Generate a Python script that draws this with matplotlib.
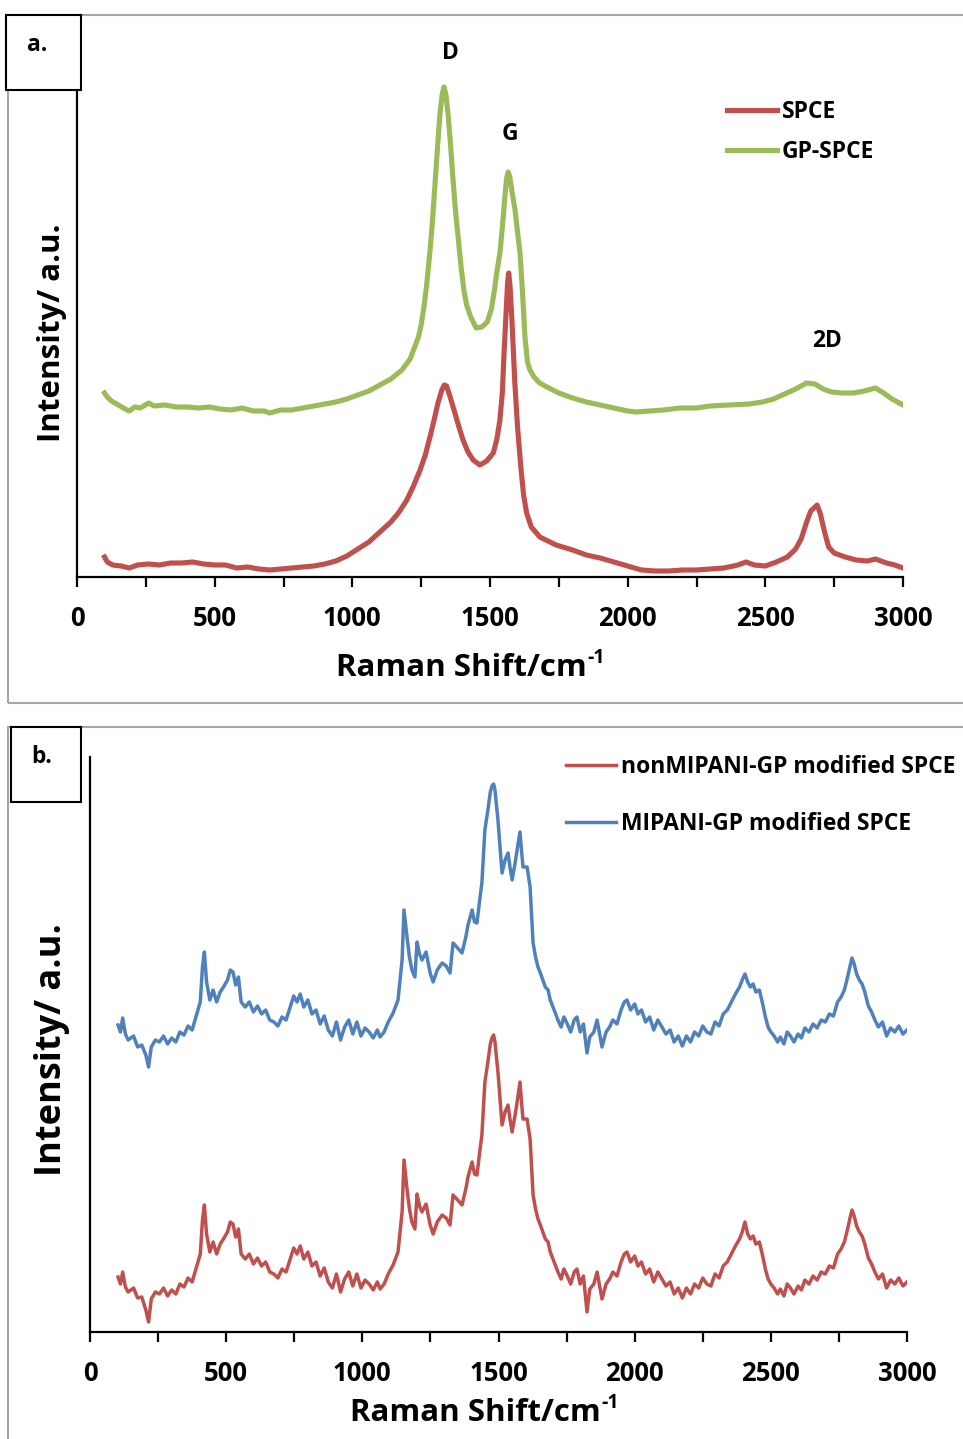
import matplotlib
matplotlib.use("Agg")
import matplotlib.pyplot as plt
from matplotlib.patches import Rectangle
from matplotlib.ticker import MultipleLocator

plt.rcParams['font.family'] = ['Open Sans', 'DejaVu Sans']
plt.rcParams['font.weight'] = 'bold'

# ---- panel a : SPCE vs GP-SPCE ----
gp_shift = [100, 110, 125, 150, 175, 190, 210, 230, 260, 280, 320, 360, 400, 440, 480,
            520, 560, 600, 640, 680, 700, 740, 780, 820, 860, 900, 940, 980, 1020, 1060,
            1100, 1140, 1180, 1210, 1240, 1250, 1260, 1270, 1280, 1290, 1300, 1310, 1318,
            1326, 1333, 1340, 1348, 1356, 1365, 1375, 1385, 1395, 1405, 1415, 1430, 1450,
            1470, 1490, 1505, 1515, 1525, 1536, 1545, 1554, 1560, 1566, 1572, 1580, 1591,
            1600, 1609, 1618, 1627, 1636, 1645, 1660, 1680, 1707, 1750, 1800, 1850, 1900,
            1950, 2000, 2030, 2080, 2130, 2190, 2250, 2300, 2370, 2440, 2490, 2530, 2570,
            2610, 2650, 2680, 2710, 2740, 2780, 2820, 2860, 2900, 2930, 2960, 3000]
gp_int = [184, 180, 176, 172, 168, 166, 170, 169, 174, 171, 172, 170, 170, 169, 170,
          168, 167, 169, 166, 166, 164, 167, 167, 169, 171, 173, 175, 178, 182, 186,
          192, 198, 207, 218, 240, 252, 270, 292, 320, 352, 392, 432, 462,
          482, 490, 482, 462, 435, 400, 365, 338, 310, 287, 272, 260, 249,
          250, 255, 268, 285, 305, 324, 350, 380, 398, 405, 400, 385, 367,
          345, 324, 285, 240, 215, 207, 200, 194, 190, 184, 179, 175, 172,
          169, 166, 165, 166, 167, 169, 169, 171, 172, 173, 175, 178, 183,
          188, 194, 193, 188, 185, 184, 184, 186, 189, 184, 178, 172]

spce_shift = [100, 110, 130, 160, 190, 220, 260, 300, 340, 380, 420, 460, 500, 540, 580,
              620, 660, 700, 740, 780, 820, 860, 900, 940, 980, 1020, 1060, 1100, 1140,
              1170, 1198, 1222, 1246, 1265, 1282, 1297, 1311, 1325, 1334, 1342, 1352,
              1366, 1384, 1402, 1420, 1439, 1463, 1488, 1512, 1525, 1536, 1545, 1551,
              1558, 1564, 1568, 1573, 1580, 1590, 1600, 1612, 1622, 1633, 1650, 1681,
              1740, 1800, 1850, 1900, 1950, 2000, 2050, 2100, 2150, 2200, 2250, 2300,
              2350, 2400, 2430, 2460, 2500, 2540, 2580, 2610, 2630, 2650, 2665, 2688,
              2700, 2715, 2730, 2750, 2790, 2830, 2870, 2900, 2940, 2970, 3000]
spce_int = [20, 15, 12, 11, 9, 12, 13, 12, 14, 14, 15, 13, 12, 12, 9,
            10, 8, 7, 8, 9, 10, 11, 13, 16, 21, 28, 35, 45, 55,
            65, 77, 91, 107, 122, 140, 157, 174, 187, 192, 191, 183,
            170, 153, 137, 125, 117, 112, 116, 124, 138, 157, 185, 224,
            262, 295, 304, 290, 255, 195, 150, 110, 82, 64, 50, 40,
            32, 27, 22, 19, 15, 11, 7, 6, 6, 7, 7, 8,
            9, 12, 15, 12, 11, 15, 20, 28, 38, 55, 66, 72,
            63, 45, 30, 24, 20, 17, 16, 18, 14, 12, 9]

# ---- panel b : nonMIPANI-GP vs MIPANI-GP ----
b_shift = [103, 112, 120, 130, 140, 160, 175, 190, 205, 215, 225, 240, 255, 270, 285,
           300, 315, 330, 345, 360, 375, 390, 405, 413, 420, 428, 440, 452, 465, 478,
           490, 505, 515, 525, 535, 545, 555, 570, 585, 600, 615, 630, 645, 660, 675,
           690, 705, 720, 735, 748, 760, 772, 785, 800, 815, 830, 845, 860, 875, 890,
           905, 920, 935, 950, 965, 980, 995, 1010, 1025, 1040, 1055, 1065, 1080, 1095,
           1113, 1131, 1146, 1153, 1164, 1173, 1182, 1193, 1201, 1210, 1219, 1234, 1249,
           1260, 1275, 1293, 1308, 1322, 1333, 1350, 1366, 1380, 1388, 1403, 1412, 1421,
           1430, 1439, 1450, 1461, 1470, 1476, 1482, 1487, 1498, 1507, 1513, 1524, 1535,
           1542, 1550, 1561, 1570, 1579, 1585, 1590, 1605, 1616, 1627, 1636, 1645, 1655,
           1663, 1672, 1682, 1690, 1700, 1710, 1718, 1730, 1740, 1751, 1765, 1778, 1788,
           1800, 1812, 1825, 1835, 1850, 1862, 1870, 1880, 1895, 1908, 1920, 1935, 1950,
           1962, 1972, 1985, 2000, 2012, 2025, 2040, 2055, 2070, 2085, 2100, 2115, 2130,
           2145, 2160, 2175, 2190, 2205, 2220, 2235, 2250, 2265, 2280, 2295, 2310, 2325,
           2340, 2355, 2370, 2385, 2395, 2405, 2415, 2425, 2435, 2445, 2458, 2470, 2480,
           2490, 2500, 2512, 2525, 2535, 2548, 2560, 2572, 2585, 2600, 2612, 2625, 2640,
           2655, 2670, 2685, 2700, 2715, 2730, 2745, 2758, 2770, 2782, 2790, 2798, 2806,
           2815, 2825, 2835, 2845, 2858, 2870, 2882, 2895, 2910, 2925, 2940, 2955, 2970,
           2985, 3000]
mip_int = [307, 300, 314, 298, 292, 296, 285, 287, 277, 265, 285, 292, 290, 296, 288,
           294, 290, 300, 297, 306, 302, 316, 330, 365, 380, 350, 332, 342, 330, 340,
           345, 352, 362, 360, 347, 355, 330, 325, 330, 320, 326, 318, 322, 312, 310,
           306, 315, 312, 325, 336, 330, 338, 325, 332, 318, 322, 308, 316, 302, 296,
           310, 292, 305, 312, 298, 310, 296, 304, 300, 294, 302, 295, 300, 310,
           319, 332, 372, 422, 395, 375, 362, 355, 390, 378, 372, 380, 359,
           350, 362, 369, 366, 359, 389, 384, 379, 395, 407, 422, 410, 409,
           430, 449, 502, 522, 540, 546, 548, 542, 512, 480, 459, 472, 479,
           465, 452, 469, 485, 500, 480, 465, 465, 445, 389, 375, 365, 358,
           352, 345, 342, 332, 325, 318, 312, 305, 315, 309, 300, 312, 315,
           300, 308, 279, 295, 300, 312, 300, 285, 300, 305, 312, 308, 322,
           330, 332, 322, 328, 318, 322, 310, 315, 302, 312, 305, 298, 302,
           290, 296, 286, 296, 290, 300, 296, 306, 300, 298, 310, 306, 318,
           322, 330, 338, 345, 352, 358, 350, 345, 348, 340, 342, 328, 315,
           305, 300, 296, 290, 295, 288, 300, 296, 290, 298, 294, 304, 300,
           308, 304, 312, 310, 318, 316, 330, 335, 342, 355, 365, 374, 368,
           358, 352, 348, 340, 326, 320, 312, 305, 310, 296, 304, 300, 306,
           298, 302]
nonmip_int = [55, 48, 60, 45, 40, 44, 34, 35, 22, 10, 33, 40, 38, 44, 36,
              42, 38, 48, 45, 54, 50, 64, 78, 112, 127, 98, 80, 90, 78, 88,
              93, 100, 110, 108, 95, 103, 78, 73, 78, 68, 74, 66, 70, 60, 58,
              54, 63, 60, 73, 84, 78, 86, 73, 80, 66, 70, 56, 64, 50, 44,
              58, 40, 53, 60, 46, 58, 44, 52, 48, 42, 50, 43, 48, 58,
              67, 80, 120, 172, 143, 123, 110, 103, 138, 126, 120, 128, 107,
              98, 110, 117, 114, 107, 137, 132, 127, 143, 155, 170, 158, 157,
              178, 197, 250, 270, 288, 294, 297, 290, 260, 228, 207, 220, 227,
              213, 200, 217, 233, 250, 228, 213, 213, 193, 137, 123, 113, 106,
              100, 93, 90, 80, 73, 66, 60, 53, 63, 57, 48, 60, 63,
              48, 56, 20, 43, 48, 60, 48, 33, 48, 53, 60, 56, 70,
              78, 80, 70, 76, 66, 70, 58, 63, 50, 60, 53, 46, 50,
              38, 44, 34, 44, 38, 48, 44, 54, 48, 46, 58, 54, 66,
              70, 78, 86, 93, 100, 110, 98, 93, 96, 88, 90, 76, 63,
              53, 48, 44, 38, 43, 36, 48, 44, 38, 46, 42, 52, 48,
              56, 52, 60, 58, 66, 64, 78, 83, 90, 103, 113, 122, 116,
              106, 100, 96, 88, 74, 68, 60, 53, 58, 44, 52, 48, 54,
              46, 50]

red = '#C0504D'
green = '#9BBB59'
blue = '#4F81BD'

W, H = 963, 1439
fig = plt.figure(figsize=(W / 100, H / 100), dpi=100)


def fbox(x0, y0, x1, y1):
    # pixel box (top-left origin) -> figure fraction [l, b, w, h]
    return [x0 / W, 1 - y1 / H, (x1 - x0) / W, (y1 - y0) / H]


def style_axes(ax, top):
    ax.set_xlim(0, 3000)
    ax.set_ylim(0, top)
    ax.set_facecolor('none')
    for s in ['top', 'right']:
        ax.spines[s].set_visible(False)
    for s in ['left', 'bottom']:
        ax.spines[s].set_linewidth(1.6)
        ax.spines[s].set_color('black')
    ax.set_yticks([])
    ax.xaxis.set_major_locator(MultipleLocator(500))
    ax.xaxis.set_minor_locator(MultipleLocator(250))
    ax.tick_params(axis='x', which='both', direction='out', length=7, width=1.6, pad=13)
    ax.tick_params(axis='x', which='major', labelsize=18.5)
    for lab in ax.get_xticklabels():
        lab.set_fontweight('bold')


def raman_label(x_left, y_mid, size):
    # axis title with a small raised "-1"
    t = fig.text(x_left / W, 1 - y_mid / H, 'Raman Shift/cm', ha='left', va='center',
                 fontsize=size, fontweight='bold')
    r = fig.canvas.get_renderer()
    bb = t.get_window_extent(renderer=r)
    fig.text(bb.x1 / W + 1 / W, 1 - (y_mid - 10) / H, '-1', ha='left', va='center',
             fontsize=size * 0.62, fontweight='bold')


# panel frames
fig.patches.append(Rectangle((8 / W, 1 - 703 / H), 1.0, (703 - 15) / H, transform=fig.transFigure,
                             fill=False, edgecolor='#a6a6a6', lw=1.5, zorder=0))
fig.patches.append(Rectangle((8 / W, -0.01), 1.0, 1 - 727 / H + 0.01, transform=fig.transFigure,
                             fill=False, edgecolor='#a6a6a6', lw=1.5, zorder=0))

# ---- panel a ----
ax1 = fig.add_axes(fbox(77, 80, 903, 577))
ax1.plot(spce_shift, spce_int, color=red, lw=3.7, label='SPCE', solid_joinstyle='round')
ax1.plot(gp_shift, gp_int, color=green, lw=3.7, label='GP-SPCE', solid_joinstyle='round')
style_axes(ax1, 497)
ax1.text(1358, 524, 'D', ha='center', va='center', fontsize=16.5, fontweight='bold', clip_on=False)
ax1.text(1573, 443, 'G', ha='center', va='center', fontsize=16.5, fontweight='bold')
ax1.text(2724, 236, '2D', ha='center', va='center', fontsize=16.5, fontweight='bold')
leg1 = ax1.legend(loc='upper left', bbox_to_anchor=(727 / W, 1 - 100 / H), bbox_transform=fig.transFigure,
                  frameon=False, fontsize=16.5, handlelength=2.2, handletextpad=0.2,
                  labelspacing=0.72, borderpad=0, borderaxespad=0)
for t in leg1.get_texts():
    t.set_fontweight('bold')

fig.text(52 / W, 1 - 333 / H, 'Intensity/ a.u.', rotation=90, ha='center', va='center',
         fontsize=22.5, fontweight='bold')
raman_label(336, 668, 22.5)

# ---- panel b ----
ax2 = fig.add_axes(fbox(90, 757, 907, 1332))
ax2.plot(b_shift, nonmip_int, color=red, lw=2.5, label='nonMIPANI-GP modified SPCE')
ax2.plot(b_shift, mip_int, color=blue, lw=2.5, label='MIPANI-GP modified SPCE')
style_axes(ax2, 575)
leg2 = ax2.legend(loc='upper left', bbox_to_anchor=(566 / W, 1 - 755 / H), bbox_transform=fig.transFigure,
                  frameon=False, fontsize=16.5, handlelength=2.2, handletextpad=0.2,
                  labelspacing=1.42, borderpad=0, borderaxespad=0)
for t in leg2.get_texts():
    t.set_fontweight('bold')

fig.text(52 / W, 1 - 1050 / H, 'Intensity/ a.u.', rotation=90, ha='center', va='center',
         fontsize=26, fontweight='bold')
raman_label(350, 1413, 22.5)

# panel letter boxes
for (x0, y0, x1, y1, lab) in [(6, 15, 81, 90, 'a.'), (11, 727, 81, 802, 'b.')]:
    fig.patches.append(Rectangle((x0 / W, 1 - y1 / H), (x1 - x0) / W, (y1 - y0) / H,
                                 transform=fig.transFigure, facecolor='white',
                                 edgecolor='black', lw=1.5, zorder=10))
    fig.text((x0 + 31) / W, 1 - (y0 + 30) / H, lab, ha='center', va='center',
             fontsize=16.5, fontweight='bold', zorder=11)

fig.savefig('out.png', dpi=100)
